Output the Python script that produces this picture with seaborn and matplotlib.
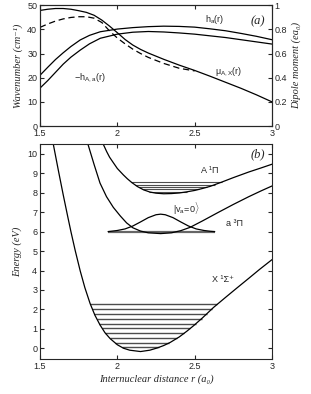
import numpy as np
import matplotlib
matplotlib.use("Agg")
import matplotlib.pyplot as plt
from matplotlib.ticker import FuncFormatter, MultipleLocator
import seaborn as sns

# ---- panel (a): couplings and dipole moments vs r ----
r_h = [1.5, 1.55, 1.6, 1.65, 1.7, 1.76, 1.82, 1.89, 2.0, 2.1, 2.2, 2.3, 2.4, 2.5, 2.6, 2.7, 2.8, 2.9, 3.0]
h_a = [21.0, 24.3, 27.5, 30.3, 32.9, 35.6, 37.5, 39.0, 40.1, 40.7, 41.1, 41.3, 41.2, 40.9, 40.2, 39.4, 38.3, 37.1, 35.7]
h_Aa = [15.7, 18.8, 22.2, 25.6, 28.5, 31.4, 34.0, 36.3, 38.0, 38.8, 39.1, 38.9, 38.5, 38.0, 37.3, 36.6, 35.7, 34.8, 33.9]

r_mu = [1.5, 1.55, 1.6, 1.65, 1.7, 1.75, 1.8, 1.85, 1.9, 1.95, 2.0, 2.05, 2.1, 2.15, 2.2, 2.3, 2.4, 2.5, 2.6, 2.7, 2.8, 2.9, 3.0]
mu_AX = [0.956, 0.966, 0.972, 0.972, 0.966, 0.954, 0.94, 0.916, 0.876, 0.826, 0.772, 0.716, 0.67, 0.634,
         0.604, 0.552, 0.504, 0.46, 0.412, 0.362, 0.312, 0.258, 0.2]
r_dash = [1.5, 1.55, 1.6, 1.65, 1.7, 1.75, 1.8, 1.85, 1.9, 1.95, 2.0, 2.05, 2.1, 2.15, 2.2, 2.3, 2.4, 2.5]
mu_dash = [0.816, 0.844, 0.868, 0.886, 0.898, 0.904, 0.904, 0.892, 0.856, 0.786, 0.728, 0.68, 0.636, 0.6,
           0.568, 0.518, 0.478, 0.456]

# ---- panel (b): potential curves (eV) ----
r_X = [1.57, 1.586, 1.62, 1.65, 1.68, 1.70, 1.727, 1.76, 1.79, 1.824, 1.855, 1.888, 1.92, 1.953, 2.0, 2.04,
       2.08, 2.15, 2.21, 2.26, 2.30, 2.342, 2.40, 2.45, 2.493, 2.55, 2.622, 2.70, 2.773, 2.85, 2.92, 3.0]
E_X = [11.2, 10.5, 9.1, 7.9, 6.75, 6.0, 5.05, 3.98, 3.12, 2.3, 1.7, 1.2, 0.8, 0.5, 0.18, 0.0,
       -0.1, -0.17, -0.1, 0.02, 0.14, 0.3, 0.58, 0.88, 1.16, 1.56, 2.1, 2.62, 3.1, 3.6, 4.06, 4.56]

r_a = [1.79, 1.81, 1.85, 1.888, 1.93, 1.974, 2.02, 2.06, 2.10, 2.15, 2.20, 2.28, 2.35, 2.41, 2.47, 2.55,
       2.65, 2.75, 2.85, 2.93, 3.0]
E_a = [11.1, 10.5, 9.45, 8.5, 7.8, 7.25, 6.8, 6.45, 6.2, 6.03, 5.94, 5.9, 5.94, 6.05, 6.22, 6.55,
       6.98, 7.4, 7.8, 8.1, 8.35]

r_A = [1.90, 1.909, 1.931, 1.95, 1.974, 2.0, 2.039, 2.065, 2.093, 2.13, 2.17, 2.21, 2.25, 2.30, 2.35,
       2.40, 2.45, 2.50, 2.55, 2.60, 2.675, 2.75, 2.85, 2.93, 3.0]
E_A = [10.7, 10.5, 10.12, 9.83, 9.55, 9.25, 8.92, 8.72, 8.53, 8.32, 8.15, 8.04, 7.98, 7.95, 7.96,
       7.99, 8.05, 8.12, 8.22, 8.33, 8.55, 8.78, 9.07, 9.28, 9.47]

# vibrational levels
lev_X = [0.04, 0.28, 0.52, 0.77, 1.02, 1.27, 1.52, 1.77, 2.02, 2.27]
lev_A = [8.05, 8.17, 8.29, 8.42, 8.55]

# |v_a=0> wavefunction drawn on its level
lev_a = 6.0
r_wf = [1.94, 1.97, 2.00, 2.05, 2.10, 2.15, 2.20, 2.25, 2.28, 2.31, 2.36, 2.41, 2.46, 2.51, 2.56, 2.60, 2.63]
E_wf = [6.0, 6.03, 6.06, 6.14, 6.29, 6.5, 6.72, 6.87, 6.9, 6.87, 6.72, 6.5, 6.29, 6.14, 6.06, 6.02, 6.0]

sns.set_theme(style="ticks")
plt.rcParams["font.family"] = ["Liberation Sans", "DejaVu Sans"]
plt.rcParams["mathtext.fontset"] = "custom"
plt.rcParams["mathtext.rm"] = "Liberation Sans"
plt.rcParams["mathtext.it"] = "Liberation Sans:italic"
plt.rcParams["xtick.direction"] = "in"
plt.rcParams["ytick.direction"] = "in"
plt.rcParams["axes.linewidth"] = 0.8
plt.rcParams["xtick.major.width"] = 0.8
plt.rcParams["ytick.major.width"] = 0.8
plt.rcParams["xtick.major.size"] = 3
plt.rcParams["ytick.major.size"] = 3
plt.rcParams["xtick.labelsize"] = 6.5
plt.rcParams["ytick.labelsize"] = 6.5
plt.rcParams["xtick.major.pad"] = 2
plt.rcParams["ytick.major.pad"] = 2

fig = plt.figure(figsize=(3.11, 3.94), dpi=100)
ax1 = fig.add_axes([0.1286, 0.680, 0.746, 0.307])
ax3 = fig.add_axes([0.1286, 0.089, 0.746, 0.546])

serif = dict(family=["Liberation Serif", "DejaVu Serif"], style="italic", size=7.5)
fmt = FuncFormatter(lambda v, p: "%g" % v)
lw = 0.9

# panel (a)
sns.lineplot(x=r_h, y=h_a, ax=ax1, color="black", lw=lw, sort=False, estimator=None)
sns.lineplot(x=r_h, y=h_Aa, ax=ax1, color="black", lw=lw, sort=False, estimator=None)
ax1.set_xlim(1.5, 3)
ax1.set_ylim(0, 50)
ax1.xaxis.set_major_locator(MultipleLocator(0.5))
ax1.yaxis.set_major_locator(MultipleLocator(10))
ax1.xaxis.set_major_formatter(fmt)
ax1.tick_params(top=True)
ax1.set_ylabel("Wavenumber (cm⁻¹)", fontdict=serif, labelpad=3)

ax2 = ax1.twinx()
sns.lineplot(x=r_mu, y=mu_AX, ax=ax2, color="black", lw=lw, sort=False, estimator=None)
sns.lineplot(x=r_dash, y=mu_dash, ax=ax2, color="black", lw=lw, sort=False, estimator=None,
             linestyle=(0, (5, 3)))
ax2.set_ylim(0, 1)
ax2.yaxis.set_major_locator(MultipleLocator(0.2))
ax2.yaxis.set_major_formatter(fmt)
ax2.set_ylabel("Dipole moment (ea₀)", fontdict=serif, labelpad=3)
ax2.set_xlim(1.5, 3)

ax1.text(2.57, 43.0, r"$\mathrm{h_a(r)}$", fontsize=6.5)
ax1.text(1.72, 19.0, r"$\mathrm{-h_{A,a}(r)}$", fontsize=6.5)
ax1.text(2.63, 21.5, r"$\mathrm{\mu_{A,X}(r)}$", fontsize=6.5)
ax1.text(2.955, 43.5, "(a)", ha="right", va="center",
         family=["Liberation Serif", "DejaVu Serif"], style="italic", size=9)

# panel (b)
for r, E in [(r_X, E_X), (r_a, E_a), (r_A, E_A)]:
    sns.lineplot(x=r, y=E, ax=ax3, color="black", lw=lw, sort=False, estimator=None)


def branches(r, E):
    i = int(np.argmin(E))
    left_r, left_E = np.array(r[:i + 1])[::-1], np.array(E[:i + 1])[::-1]
    right_r, right_E = np.array(r[i:]), np.array(E[i:])
    return left_r, left_E, right_r, right_E


for r, E, levels, lwl in [(r_X, E_X, lev_X, 1.0), (r_A, E_A, lev_A, 0.8)]:
    lr, lE, rr, rE = branches(r, E)
    for e in levels:
        x0 = np.interp(e, lE, lr)
        x1 = np.interp(e, rE, rr)
        ax3.hlines(e, x0, x1, color="#4d4d4d", lw=lwl, zorder=1)

ax3.hlines(lev_a, r_wf[0], r_wf[-1], color="#666666", lw=1.6, zorder=1)
sns.lineplot(x=r_wf, y=E_wf, ax=ax3, color="black", lw=lw, sort=False, estimator=None)

ax3.set_xlim(1.5, 3)
ax3.set_ylim(-0.55, 10.52)
ax3.xaxis.set_major_locator(MultipleLocator(0.5))
ax3.yaxis.set_major_locator(MultipleLocator(1))
ax3.xaxis.set_major_formatter(fmt)
ax3.tick_params(top=True, right=True)
ax3.set_ylabel("Energy (eV)", fontdict=serif, labelpad=4)
ax3.set_xlabel("Internuclear distance r (a₀)", fontdict=serif, labelpad=3)

ann = dict(fontsize=6.5, family=["Liberation Sans", "DejaVu Sans"])
ax3.text(2.54, 9.0, "A ¹Π", **ann)
ax3.text(2.70, 6.3, "a ³Π", **ann)
ax3.text(2.36, 6.95, r"$|\mathrm{v_a\!=\!0}\rangle$", fontsize=6.5)
ax3.text(2.61, 3.4, "X ¹Σ⁺", **ann)
ax3.text(2.955, 10.0, "(b)", ha="right", va="center",
         family=["Liberation Serif", "DejaVu Serif"], style="italic", size=9)

fig.savefig("out.png", dpi=100)
